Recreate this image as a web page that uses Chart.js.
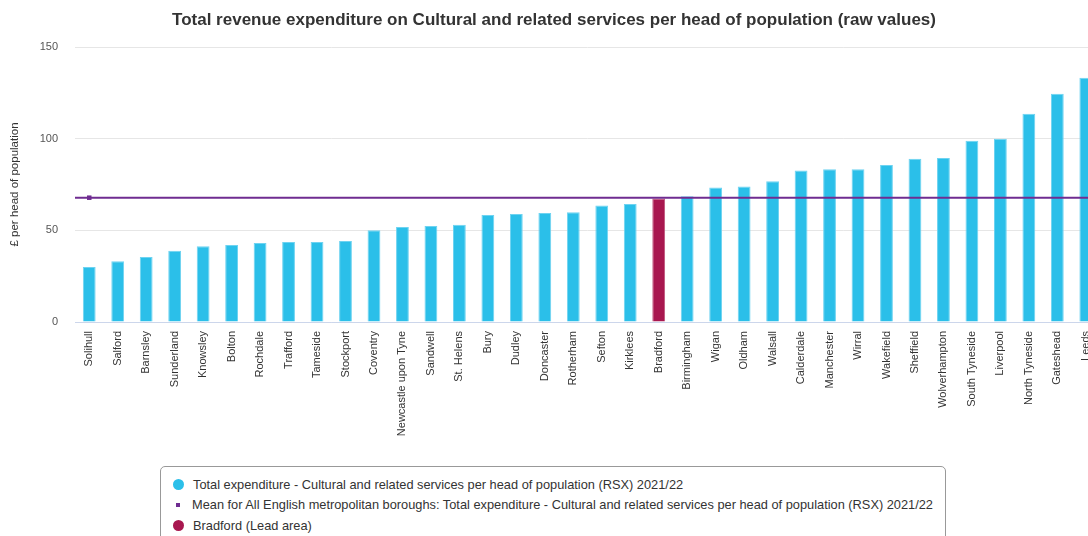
<!DOCTYPE html>
<html>
<head>
<meta charset="utf-8">
<title>Cultural and related services spend per head</title>
<script src="https://cdn.jsdelivr.net/npm/chart.js@4/dist/chart.umd.min.js"></script>
<style>
    html, body {
        margin: 0;
        padding: 0;
        background: #fff;
        overflow: hidden;
        width: 1088px;
        height: 536px;
    }
    #wrap {
        position: relative;
        width: 1108px;
        height: 536px;
    }
    #chartBox {
        position: absolute;
        left: 0;
        top: 0;
        width: 1108px;
        height: 460px;
    }
    #legend {
        position: absolute;
        left: 160px;
        top: 466px;
        width: 760px;
        height: 90px;
        padding: 7px 12px;
        border: 1px solid #999;
        border-radius: 5px;
        font: 12.8px "Liberation Sans", Arial, sans-serif;
        color: #333;
    }
    .legend-row {
        display: flex;
        align-items: center;
        height: 20.5px;
        white-space: nowrap;
    }
    .legend-mark {
        width: 11px;
        margin-right: 9px;
        display: flex;
        justify-content: center;
        align-items: center;
    }
</style>
</head>
<body>
<div id="wrap">
    <div id="chartBox"><canvas id="spendChart"></canvas></div>
    <div id="legend"></div>
</div>

<script>
// Metropolitan boroughs, sorted by spend
const areas = [
    "Solihull", "Salford", "Barnsley", "Sunderland", "Knowsley", "Bolton",
    "Rochdale", "Trafford", "Tameside", "Stockport", "Coventry", "Newcastle upon Tyne",
    "Sandwell", "St. Helens", "Bury", "Dudley", "Doncaster", "Rotherham",
    "Sefton", "Kirklees", "Bradford", "Birmingham", "Wigan", "Oldham",
    "Walsall", "Calderdale", "Manchester", "Wirral", "Wakefield", "Sheffield",
    "Wolverhampton", "South Tyneside", "Liverpool", "North Tyneside", "Gateshead", "Leeds"
];

// £ per head of population, 2021/22
const spendPerHead = [
    30.0, 33.2, 35.5, 38.9, 41.3, 42.0,
    43.1, 43.6, 43.6, 44.2, 50.1, 51.8,
    52.3, 53.0, 58.3, 58.9, 59.4, 59.9,
    63.6, 64.3, 67.3, 68.6, 73.4, 73.9,
    76.8, 82.6, 83.3, 83.3, 85.7, 89.0,
    89.5, 98.9, 100.0, 113.6, 124.5, 133.2
];

const meanValue = 67.8;
const leadArea = "Bradford";
const yTicks = [0, 50, 100, 150];

const seriesName = "Total expenditure - Cultural and related services per head of population (RSX) 2021/22";
const meanName = "Mean for All English metropolitan boroughs: Total expenditure - Cultural and related services per head of population (RSX) 2021/22";
const leadName = "Bradford (Lead area)";

const CYAN = "#2bbfe9";
const CRIMSON = "#a8174f";
const PURPLE = "#6f2c91";

Chart.defaults.font.family = "'Liberation Sans', Arial, sans-serif";
Chart.defaults.color = "#333";

// the lead area gets its own series so it can be coloured and listed separately
const leadIdx = areas.indexOf(leadArea);
const otherData = spendPerHead.map((v, i) => i === leadIdx ? null : v);
const leadData = spendPerHead.map((v, i) => i === leadIdx ? v : null);

// mean line runs across the whole plot, marker on the first category
const lastIdx = areas.length - 1;
const meanData = [
    { x: -0.5, y: meanValue },
    { x: 0, y: meanValue },
    { x: lastIdx + 0.5, y: meanValue }
];

// Legend drawn as html so the items stack in a bordered box
const htmlLegend = {
    id: "htmlLegend",
    afterUpdate(chart) {
        const box = document.getElementById("legend");
        box.innerHTML = "";
        chart.data.datasets.forEach(ds => {
            const row = document.createElement("div");
            row.className = "legend-row";
            const mark = document.createElement("span");
            mark.className = "legend-mark";
            const dot = document.createElement("span");
            if (ds.type === "line") {
                dot.style.width = "4px";
                dot.style.height = "4px";
                dot.style.background = ds.borderColor;
            } else {
                dot.style.width = "11px";
                dot.style.height = "11px";
                dot.style.borderRadius = "50%";
                dot.style.background = ds.backgroundColor;
            }
            mark.appendChild(dot);
            const text = document.createElement("span");
            text.textContent = ds.label;
            row.appendChild(mark);
            row.appendChild(text);
            box.appendChild(row);
        });
    }
};

new Chart(document.getElementById("spendChart"), {
    data: {
        labels: areas,
        datasets: [
            {
                type: "bar",
                label: seriesName,
                data: otherData,
                backgroundColor: CYAN,
                borderColor: "#6ed3f1",
                borderWidth: 1,
                barPercentage: 0.45,
                categoryPercentage: 1,
                grouped: false,
                order: 2
            },
            {
                type: "line",
                label: meanName,
                data: meanData,
                xAxisID: "xMean",
                borderColor: PURPLE,
                backgroundColor: PURPLE,
                borderWidth: 2,
                pointStyle: "rect",
                pointRadius: [0, 3.2, 0],
                pointBorderWidth: 0,
                tension: 0,
                order: 0
            },
            {
                type: "bar",
                label: leadName,
                data: leadData,
                backgroundColor: CRIMSON,
                borderColor: "#c0557d",
                borderWidth: 1,
                barPercentage: 0.45,
                categoryPercentage: 1,
                grouped: false,
                order: 1
            }
        ]
    },
    options: {
        responsive: true,
        maintainAspectRatio: false,
        animation: false,
        layout: { padding: { left: 0, right: 0, top: 0, bottom: 0 } },
        plugins: {
            legend: { display: false },
            tooltip: { enabled: false },
            title: {
                display: true,
                text: "Total revenue expenditure on Cultural and related services per head of population (raw values)",
                color: "#333",
                font: { size: 17, weight: "bold" },
                padding: { top: 10, bottom: 16.6 }
            }
        },
        scales: {
            x: {
                type: "category",
                offset: true,
                grid: { display: false, drawTicks: false },
                border: { display: true, color: "#ccd6eb", width: 1 },
                ticks: {
                    autoSkip: false,
                    minRotation: 90,
                    maxRotation: 90,
                    padding: 9,
                    color: "#333",
                    font: { size: 11 }
                },
                afterFit(scale) { scale.height = 138; }
            },
            xMean: {
                type: "linear",
                display: false,
                min: -0.5,
                max: lastIdx + 0.5
            },
            y: {
                min: 0,
                max: 150,
                afterBuildTicks(scale) {
                    scale.ticks = yTicks.map(v => ({ value: v }));
                },
                grid: {
                    drawTicks: false,
                    color: ctx => ctx.tick && ctx.tick.value === 0 ? "#ccd6eb" : "#e6e6e6"
                },
                border: { display: false },
                ticks: {
                    padding: 17,
                    color: "#555",
                    font: { size: 11 }
                },
                title: {
                    display: true,
                    text: "£ per head of population",
                    color: "#333",
                    font: { size: 11.5 },
                    padding: { top: 8.2, bottom: 0 }
                },
                afterFit(scale) { scale.width = 75; }
            }
        }
    },
    plugins: [htmlLegend]
});
</script>
</body>
</html>
